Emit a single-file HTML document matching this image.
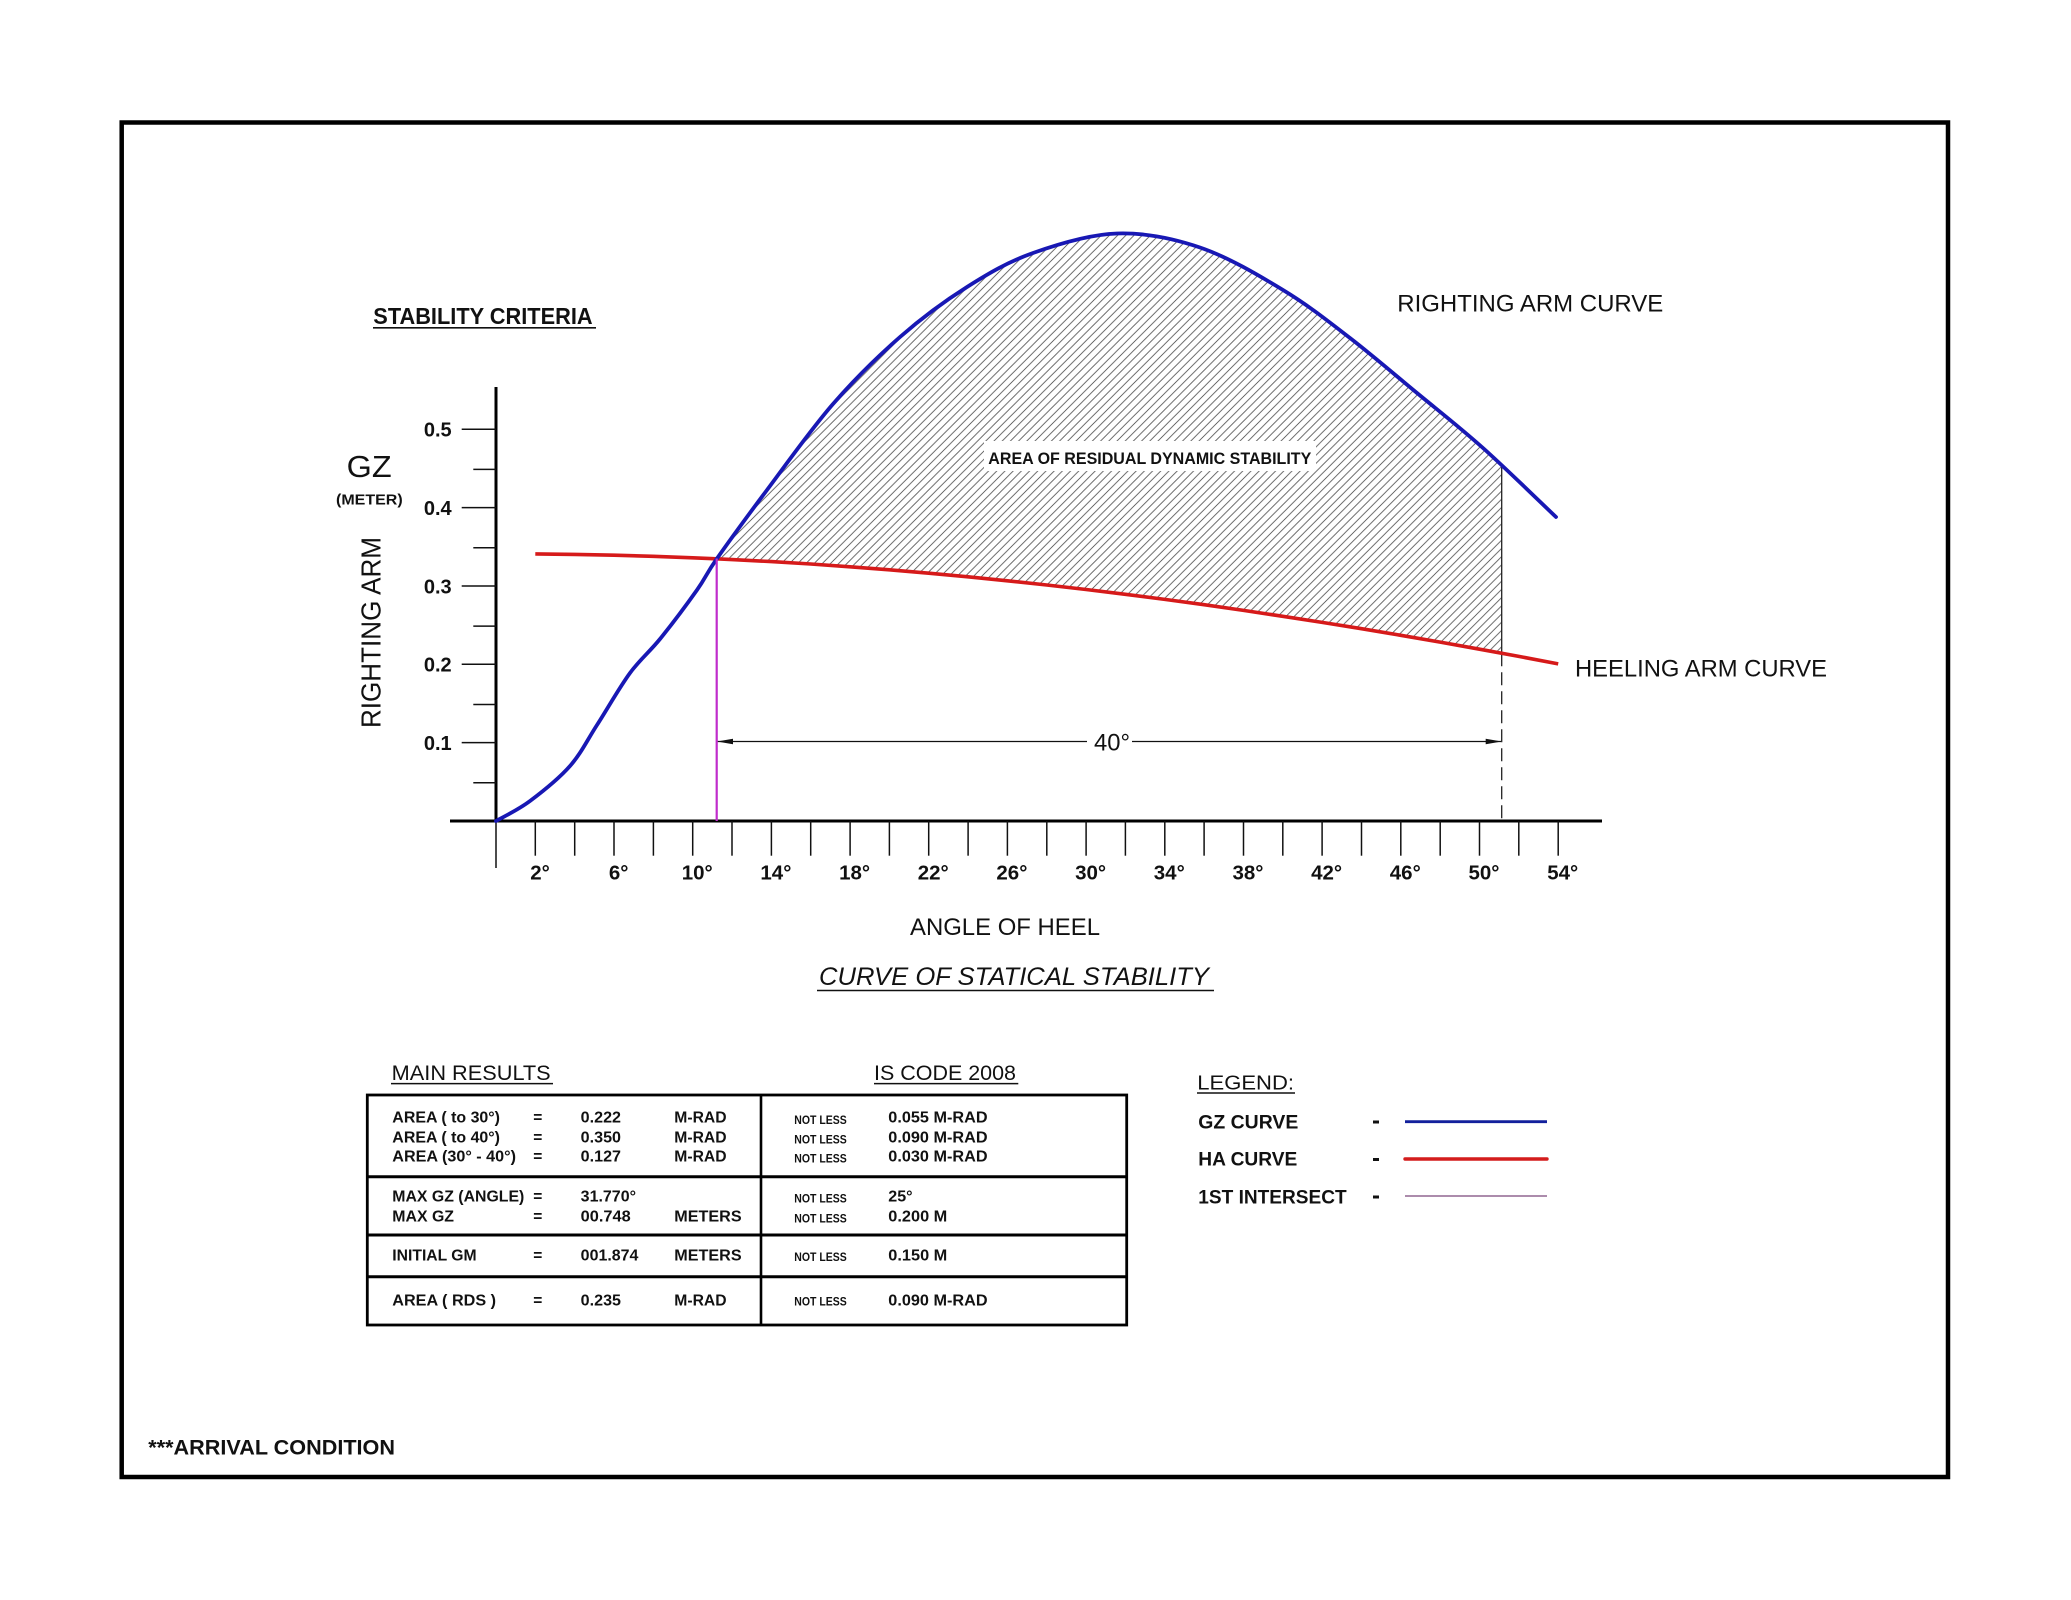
<!DOCTYPE html>
<html>
<head>
<meta charset="utf-8">
<style>
html,body{margin:0;padding:0;background:#fff;}
svg{display:block;}
text{font-family:"Liberation Sans",Arial,sans-serif;fill:#111;}
.b{font-weight:bold;}
</style>
</head>
<body>
<svg xmlns="http://www.w3.org/2000/svg" width="2071" height="1600" viewBox="0 0 2071 1600">
<defs>
<pattern id="h" patternUnits="userSpaceOnUse" width="8.2" height="8.2">
<path d="M-1,1 L1,-1 M0,8.2 L8.2,0 M7.2,9.2 L9.2,7.2" stroke="#505050" stroke-width="0.8" fill="none"/>
</pattern>
<clipPath id="hc"><rect x="716.7" y="200" width="785" height="500"/></clipPath>
</defs>
<rect width="2071" height="1600" fill="#fff"/>
<!-- outer border -->
<rect x="121.7" y="122.5" width="1826.3" height="1354.5" fill="none" stroke="#000" stroke-width="4.5"/>

<!-- hatched area -->
<path clip-path="url(#hc)" fill="url(#h)" stroke="none" d="M717,558.5 C728.7,541.8 747.7,515.75 767,490 C786.3,464.25 810.8,429.5 833,404 C855.2,378.5 877.7,356.5 900,337 C922.3,317.5 944.8,301 967,287 C989.2,273 1008,261.9 1033,253 C1058,244.1 1089.2,234.4 1117,233.5 C1144.8,232.6 1172.3,238.1 1200,247.5 C1227.7,256.9 1258,274.9 1283,290 C1308,305.1 1327.7,320.8 1350,338 C1372.3,355.2 1394.8,374.7 1417,393 C1439.2,411.3 1459.8,427.3 1483,448 C1506.2,468.7 1543.8,505.5 1556,517 L1558.2,663.9 L1518.8,656.4 L1479.5,649.2 L1400.8,635.3 L1322.1,622.4 L1243.5,610.4 L1164.8,599.4 L1086.1,589.5 L1007.4,580.8 L928.7,573.2 L850.1,566.8 L771.4,561.6 L716.7,558.8 Z"/>
<rect x="984" y="441" width="332" height="30" fill="#fff"/>
<text x="988.3" y="464" class="b" font-size="16.5" textLength="323" lengthAdjust="spacingAndGlyphs">AREA OF RESIDUAL DYNAMIC STABILITY</text>
<!-- right edge of hatch -->
<line x1="1501.7" y1="466" x2="1501.7" y2="653.3" stroke="#222" stroke-width="1.3"/>
<line x1="1501.7" y1="653.3" x2="1501.7" y2="821" stroke="#222" stroke-width="1.3" stroke-dasharray="13 6"/>

<!-- axes -->
<line x1="496" y1="387" x2="496" y2="821" stroke="#000" stroke-width="3"/>
<line x1="450" y1="821" x2="1602" y2="821" stroke="#000" stroke-width="3"/>
<g stroke="#111" stroke-width="1.5">
<line x1="461.7" y1="742.65" x2="496" y2="742.65"/>
<line x1="461.7" y1="664.3" x2="496" y2="664.3"/>
<line x1="461.7" y1="585.95" x2="496" y2="585.95"/>
<line x1="461.7" y1="507.6" x2="496" y2="507.6"/>
<line x1="461.7" y1="429.25" x2="496" y2="429.25"/>
<line x1="473.3" y1="782.8" x2="496" y2="782.8"/>
<line x1="473.3" y1="704.5" x2="496" y2="704.5"/>
<line x1="473.3" y1="626.1" x2="496" y2="626.1"/>
<line x1="473.3" y1="547.8" x2="496" y2="547.8"/>
<line x1="473.3" y1="469.4" x2="496" y2="469.4"/>
<line x1="496" y1="821" x2="496" y2="868"/>
<line x1="535.3" y1="821" x2="535.3" y2="855.7"/>
<line x1="574.7" y1="821" x2="574.7" y2="855.7"/>
<line x1="614.0" y1="821" x2="614.0" y2="855.7"/>
<line x1="653.4" y1="821" x2="653.4" y2="855.7"/>
<line x1="692.7" y1="821" x2="692.7" y2="855.7"/>
<line x1="732.0" y1="821" x2="732.0" y2="855.7"/>
<line x1="771.4" y1="821" x2="771.4" y2="855.7"/>
<line x1="810.7" y1="821" x2="810.7" y2="855.7"/>
<line x1="850.1" y1="821" x2="850.1" y2="855.7"/>
<line x1="889.4" y1="821" x2="889.4" y2="855.7"/>
<line x1="928.7" y1="821" x2="928.7" y2="855.7"/>
<line x1="968.1" y1="821" x2="968.1" y2="855.7"/>
<line x1="1007.4" y1="821" x2="1007.4" y2="855.7"/>
<line x1="1046.8" y1="821" x2="1046.8" y2="855.7"/>
<line x1="1086.1" y1="821" x2="1086.1" y2="855.7"/>
<line x1="1125.4" y1="821" x2="1125.4" y2="855.7"/>
<line x1="1164.8" y1="821" x2="1164.8" y2="855.7"/>
<line x1="1204.1" y1="821" x2="1204.1" y2="855.7"/>
<line x1="1243.5" y1="821" x2="1243.5" y2="855.7"/>
<line x1="1282.8" y1="821" x2="1282.8" y2="855.7"/>
<line x1="1322.1" y1="821" x2="1322.1" y2="855.7"/>
<line x1="1361.5" y1="821" x2="1361.5" y2="855.7"/>
<line x1="1400.8" y1="821" x2="1400.8" y2="855.7"/>
<line x1="1440.2" y1="821" x2="1440.2" y2="855.7"/>
<line x1="1479.5" y1="821" x2="1479.5" y2="855.7"/>
<line x1="1518.8" y1="821" x2="1518.8" y2="855.7"/>
<line x1="1558.2" y1="821" x2="1558.2" y2="855.7"/>
</g>

<!-- y tick labels -->
<g class="b" font-size="20" text-anchor="end">
<text x="451.7" y="436.7" class="b">0.5</text>
<text x="451.7" y="515" class="b">0.4</text>
<text x="451.7" y="593.4" class="b">0.3</text>
<text x="451.7" y="671.7" class="b">0.2</text>
<text x="451.7" y="750" class="b">0.1</text>
</g>
<!-- x tick labels -->
<g font-size="20.5" text-anchor="middle">
<text class="b" x="540" y="879.3">2°</text>
<text class="b" x="618.7" y="879.3">6°</text>
<text class="b" x="697.2" y="879.3">10°</text>
<text class="b" x="775.9" y="879.3">14°</text>
<text class="b" x="854.6" y="879.3">18°</text>
<text class="b" x="933.2" y="879.3">22°</text>
<text class="b" x="1011.9" y="879.3">26°</text>
<text class="b" x="1090.6" y="879.3">30°</text>
<text class="b" x="1169.3" y="879.3">34°</text>
<text class="b" x="1248" y="879.3">38°</text>
<text class="b" x="1326.6" y="879.3">42°</text>
<text class="b" x="1405.3" y="879.3">46°</text>
<text class="b" x="1484" y="879.3">50°</text>
<text class="b" x="1562.7" y="879.3">54°</text>
</g>

<!-- dimension line -->
<line x1="717" y1="741.5" x2="1087" y2="741.5" stroke="#111" stroke-width="1.2"/>
<line x1="1132" y1="741.5" x2="1501" y2="741.5" stroke="#111" stroke-width="1.2"/>
<polygon points="717,741.5 733,738.8 733,744.2" fill="#111"/>
<polygon points="1501.7,741.5 1485.7,738.8 1485.7,744.2" fill="#111"/>
<text x="1094" y="750.7" font-size="24" textLength="36" lengthAdjust="spacingAndGlyphs">40°</text>

<!-- HA curve -->
<path fill="none" stroke="#d61a1a" stroke-width="3.6" stroke-linejoin="round" stroke-linecap="butt" d="M535.3,553.9 L575,554.4 L614,555.2 L653,556.3 L692.7,557.8 L716.5,558.8 L732,559.6 L771.4,561.6 L810.7,564 L850.1,566.8 L889.4,569.8 L928.7,573.2 L968,576.8 L1007.4,580.8 L1046.8,585 L1086.1,589.5 L1125.4,594.3 L1164.8,599.4 L1204.1,604.7 L1243.5,610.4 L1282.8,616.3 L1322.1,622.4 L1361.5,628.7 L1400.8,635.3 L1440.2,642.1 L1479.5,649.2 L1518.8,656.4 L1558.2,663.9"/>

<!-- GZ curve -->
<path fill="none" stroke="#1818b4" stroke-width="3.8" stroke-linejoin="round" stroke-linecap="round" d="M496,821 C501.7,817.7 517.7,810.2 530,801 C542.3,791.8 558.8,778.7 570,766 C581.2,753.3 587,740.5 597,725 C607,709.5 619.5,687.3 630,673 C640.5,658.7 648.8,652.8 660,639 C671.2,625.2 687.5,603.4 697,590 C706.5,576.6 705.3,575.2 717,558.5 C728.7,541.8 747.7,515.75 767,490 C786.3,464.25 810.8,429.5 833,404 C855.2,378.5 877.7,356.5 900,337 C922.3,317.5 944.8,301 967,287 C989.2,273 1008,261.9 1033,253 C1058,244.1 1089.2,234.4 1117,233.5 C1144.8,232.6 1172.3,238.1 1200,247.5 C1227.7,256.9 1258,274.9 1283,290 C1308,305.1 1327.7,320.8 1350,338 C1372.3,355.2 1394.8,374.7 1417,393 C1439.2,411.3 1459.8,427.3 1483,448 C1506.2,468.7 1543.8,505.5 1556,517"/>

<!-- first intersect vertical -->
<line x1="716.7" y1="558.5" x2="716.7" y2="821" stroke="#c02ccc" stroke-width="2.2"/>

<!-- labels -->
<text x="373.3" y="324" class="b" font-size="23" textLength="219.3" lengthAdjust="spacingAndGlyphs">STABILITY CRITERIA</text>
<line x1="373" y1="327.8" x2="596" y2="327.8" stroke="#111" stroke-width="1.6"/>
<text x="346.7" y="477" font-size="31" textLength="45" lengthAdjust="spacingAndGlyphs">GZ</text>
<text x="336" y="504.5" class="b" font-size="15" textLength="66.7" lengthAdjust="spacingAndGlyphs">(METER)</text>
<text transform="translate(380.7,632.5) rotate(-90)" text-anchor="middle" font-size="28" textLength="191" lengthAdjust="spacingAndGlyphs">RIGHTING ARM</text>
<text x="1397.3" y="311.7" font-size="24" textLength="266" lengthAdjust="spacingAndGlyphs">RIGHTING ARM CURVE</text>
<text x="1575" y="676.7" font-size="24" textLength="252" lengthAdjust="spacingAndGlyphs">HEELING ARM CURVE</text>
<text x="910" y="935" font-size="24" textLength="190" lengthAdjust="spacingAndGlyphs">ANGLE OF HEEL</text>
<text x="819" y="985" font-size="25" font-style="italic" textLength="390" lengthAdjust="spacingAndGlyphs">CURVE OF STATICAL STABILITY</text>
<line x1="817" y1="990.5" x2="1214" y2="990.5" stroke="#111" stroke-width="1.6"/>

<!-- table headers -->
<text x="391.7" y="1080" font-size="21.5" textLength="159" lengthAdjust="spacingAndGlyphs">MAIN RESULTS</text>
<line x1="391" y1="1083.6" x2="553" y2="1083.6" stroke="#111" stroke-width="1.5"/>
<text x="874" y="1080" font-size="21.5" textLength="142" lengthAdjust="spacingAndGlyphs">IS CODE 2008</text>
<line x1="874" y1="1083.6" x2="1018.3" y2="1083.6" stroke="#111" stroke-width="1.5"/>

<!-- table -->
<rect x="367.3" y="1095" width="759.4" height="230" fill="none" stroke="#000" stroke-width="2.8"/>
<line x1="761" y1="1095" x2="761" y2="1325" stroke="#000" stroke-width="2.6"/>
<line x1="367.3" y1="1176.7" x2="1126.7" y2="1176.7" stroke="#000" stroke-width="3"/>
<line x1="367.3" y1="1235" x2="1126.7" y2="1235" stroke="#000" stroke-width="3"/>
<line x1="367.3" y1="1276.7" x2="1126.7" y2="1276.7" stroke="#000" stroke-width="3"/>

<g font-size="15.5" class="b">
<text class="b" x="392.3" y="1122.7" textLength="107.7" lengthAdjust="spacingAndGlyphs">AREA ( to 30°)</text>
<text class="b" x="392.3" y="1142.7" textLength="107.7" lengthAdjust="spacingAndGlyphs">AREA ( to 40°)</text>
<text class="b" x="392.3" y="1161.7" textLength="123.7" lengthAdjust="spacingAndGlyphs">AREA (30° - 40°)</text>
<text class="b" x="392.3" y="1201.7" textLength="132" lengthAdjust="spacingAndGlyphs">MAX GZ (ANGLE)</text>
<text class="b" x="392.3" y="1221.7" textLength="61.7" lengthAdjust="spacingAndGlyphs">MAX GZ</text>
<text class="b" x="392.3" y="1260.7" textLength="84.3" lengthAdjust="spacingAndGlyphs">INITIAL GM</text>
<text class="b" x="392.3" y="1305.7" textLength="103.7" lengthAdjust="spacingAndGlyphs">AREA ( RDS )</text>

<text class="b" x="533.3" y="1122.7">=</text>
<text class="b" x="533.3" y="1142.7">=</text>
<text class="b" x="533.3" y="1161.7">=</text>
<text class="b" x="533.3" y="1201.7">=</text>
<text class="b" x="533.3" y="1221.7">=</text>
<text class="b" x="533.3" y="1260.7">=</text>
<text class="b" x="533.3" y="1305.7">=</text>

<text class="b" x="580.7" y="1122.7" textLength="40.3" lengthAdjust="spacingAndGlyphs">0.222</text>
<text class="b" x="580.7" y="1142.7" textLength="40.3" lengthAdjust="spacingAndGlyphs">0.350</text>
<text class="b" x="580.7" y="1161.7" textLength="40.3" lengthAdjust="spacingAndGlyphs">0.127</text>
<text class="b" x="580.7" y="1201.7" textLength="55.3" lengthAdjust="spacingAndGlyphs">31.770°</text>
<text class="b" x="580.7" y="1221.7" textLength="50" lengthAdjust="spacingAndGlyphs">00.748</text>
<text class="b" x="580.7" y="1260.7" textLength="57.7" lengthAdjust="spacingAndGlyphs">001.874</text>
<text class="b" x="580.7" y="1305.7" textLength="40.3" lengthAdjust="spacingAndGlyphs">0.235</text>

<text class="b" x="674.3" y="1122.7" textLength="52.3" lengthAdjust="spacingAndGlyphs">M-RAD</text>
<text class="b" x="674.3" y="1142.7" textLength="52.3" lengthAdjust="spacingAndGlyphs">M-RAD</text>
<text class="b" x="674.3" y="1161.7" textLength="52.3" lengthAdjust="spacingAndGlyphs">M-RAD</text>
<text class="b" x="674.3" y="1221.7" textLength="67.3" lengthAdjust="spacingAndGlyphs">METERS</text>
<text class="b" x="674.3" y="1260.7" textLength="67.3" lengthAdjust="spacingAndGlyphs">METERS</text>
<text class="b" x="674.3" y="1305.7" textLength="52.3" lengthAdjust="spacingAndGlyphs">M-RAD</text>

<text class="b" x="888.3" y="1122.7" textLength="99.3" lengthAdjust="spacingAndGlyphs">0.055 M-RAD</text>
<text class="b" x="888.3" y="1142.7" textLength="99.3" lengthAdjust="spacingAndGlyphs">0.090 M-RAD</text>
<text class="b" x="888.3" y="1161.7" textLength="99.3" lengthAdjust="spacingAndGlyphs">0.030 M-RAD</text>
<text class="b" x="888.3" y="1201.7" textLength="24.3" lengthAdjust="spacingAndGlyphs">25°</text>
<text class="b" x="888.3" y="1221.7" textLength="59" lengthAdjust="spacingAndGlyphs">0.200 M</text>
<text class="b" x="888.3" y="1260.7" textLength="59" lengthAdjust="spacingAndGlyphs">0.150 M</text>
<text class="b" x="888.3" y="1305.7" textLength="99.3" lengthAdjust="spacingAndGlyphs">0.090 M-RAD</text>
</g>

<g font-size="11.5" class="b">
<text class="b" x="794.3" y="1124" textLength="52.4" lengthAdjust="spacingAndGlyphs">NOT LESS</text>
<text class="b" x="794.3" y="1143.3" textLength="52.4" lengthAdjust="spacingAndGlyphs">NOT LESS</text>
<text class="b" x="794.3" y="1162.3" textLength="52.4" lengthAdjust="spacingAndGlyphs">NOT LESS</text>
<text class="b" x="794.3" y="1202.3" textLength="52.4" lengthAdjust="spacingAndGlyphs">NOT LESS</text>
<text class="b" x="794.3" y="1222.3" textLength="52.4" lengthAdjust="spacingAndGlyphs">NOT LESS</text>
<text class="b" x="794.3" y="1261" textLength="52.4" lengthAdjust="spacingAndGlyphs">NOT LESS</text>
<text class="b" x="794.3" y="1305.7" textLength="52.4" lengthAdjust="spacingAndGlyphs">NOT LESS</text>
</g>

<!-- legend -->
<text x="1197.3" y="1089.3" font-size="20.5" textLength="96.7" lengthAdjust="spacingAndGlyphs">LEGEND:</text>
<line x1="1197" y1="1093" x2="1295" y2="1093" stroke="#111" stroke-width="1.5"/>
<text x="1198.3" y="1128.3" font-size="19" class="b" textLength="100" lengthAdjust="spacingAndGlyphs">GZ CURVE</text>
<text x="1198.3" y="1165.7" font-size="19" class="b" textLength="99" lengthAdjust="spacingAndGlyphs">HA CURVE</text>
<text x="1198.3" y="1203.3" font-size="19" class="b" textLength="148.4" lengthAdjust="spacingAndGlyphs">1ST INTERSECT</text>
<rect x="1373" y="1120.5" width="6" height="3" fill="#111"/>
<rect x="1373" y="1158" width="6" height="3" fill="#111"/>
<rect x="1373" y="1195.5" width="6" height="3" fill="#111"/>
<line x1="1405" y1="1121.7" x2="1547" y2="1121.7" stroke="#12209c" stroke-width="2.8"/>
<line x1="1405" y1="1159" x2="1547" y2="1159" stroke="#d41c1c" stroke-width="3.4" stroke-linecap="round"/>
<line x1="1405" y1="1196" x2="1547" y2="1196" stroke="#5a1a58" stroke-width="1.1"/>

<!-- footer -->
<text x="148.3" y="1454.3" class="b" font-size="21" textLength="246.7" lengthAdjust="spacingAndGlyphs">***ARRIVAL CONDITION</text>
</svg>
</body>
</html>
